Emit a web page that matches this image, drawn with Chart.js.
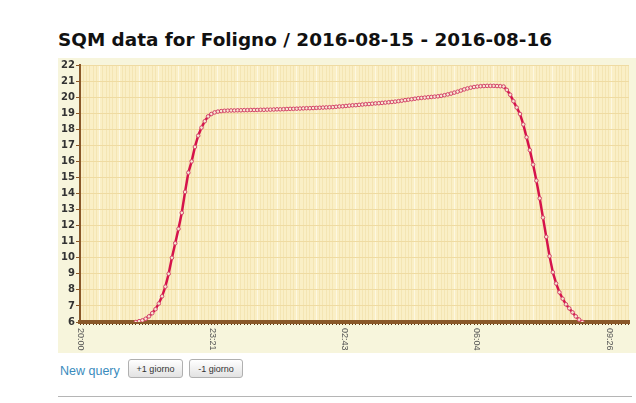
<!DOCTYPE html>
<html>
<head>
<meta charset="utf-8">
<script src="https://cdn.jsdelivr.net/npm/chart.js@4/dist/chart.umd.min.js"></script>
<style>
body { margin: 0; background: #fff; font-family: "DejaVu Sans", sans-serif; }
h2 { position: absolute; left: 58px; top: 29px; margin: 0; font-size: 18.4px; font-weight: bold; color: #111; white-space: nowrap; }
#panel { position: absolute; left: 58px; top: 58px; width: 578px; height: 295px; background: #f7f5dc; }
#foot { position: absolute; left: 58px; top: 359px; height: 20px; }
#foot a { position: absolute; left: 2px; top: 5px; font-family: "Liberation Sans", sans-serif; font-size: 12.5px; color: #3a8bbd; text-decoration: none; white-space: nowrap; }
#foot button { position: absolute; top: 0; height: 19px; padding: 0; font-family: "Liberation Sans", sans-serif; font-size: 9px; color: #333;
  border: 1px solid #b0b0b0; border-radius: 3px; background: linear-gradient(#ffffff, #e2e2e2); }
#rule { position: absolute; left: 58px; top: 396px; width: 574px; border-top: 1px solid #b5b5b5; }
</style>
</head>
<body>
<h2>SQM data for Foligno / 2016-08-15 - 2016-08-16</h2>
<div id="panel"><canvas id="sqmChart" width="578" height="295"></canvas></div>
<div id="foot">
  <a href="#">New query</a>
  <button style="left:70px;width:55px">+1 giorno</button>
  <button style="left:131px;width:54px">-1 giorno</button>
</div>
<div id="rule"></div>
<script>
// Dati (mag/arcsec^2), una lettura ogni 5 minuti
const axisStart = '20:00';
const axisEnd = '09:56';
const tickLabels = ['20:00', '23:21', '02:43', '06:04', '09:26'];
const firstReading = '21:25';
const readingStepMin = 5;
const sqmValues = [
  6.0, 6.05, 6.1, 6.2, 6.35, 6.55, 6.8, 7.15, 7.6, 8.2, 9.0, 10.0, 10.9, 11.8,
  12.8, 14.1, 15.3, 16.0, 16.9, 17.6, 18.1, 18.5, 18.8, 18.95, 19.05, 19.1, 19.13, 19.15,
  19.16, 19.17, 19.17, 19.18, 19.18, 19.19, 19.19, 19.2, 19.2, 19.2, 19.21, 19.21, 19.22, 19.22, 19.23, 19.24,
  19.24, 19.25, 19.26, 19.27, 19.27, 19.28, 19.29, 19.3, 19.31, 19.31, 19.32, 19.33, 19.34, 19.35, 19.36, 19.37,
  19.38, 19.4, 19.42, 19.43, 19.45, 19.47, 19.49, 19.5, 19.52, 19.54, 19.56, 19.57, 19.59, 19.61, 19.62, 19.64,
  19.66, 19.68, 19.7, 19.72, 19.75,
  19.78, 19.81, 19.84, 19.87, 19.9, 19.93, 19.95, 19.97, 19.99, 20.01, 20.03, 20.05,
  20.08, 20.12, 20.17, 20.22, 20.28, 20.34, 20.41, 20.48, 20.54, 20.59, 20.63,
  20.66, 20.68, 20.69, 20.7, 20.7, 20.7, 20.69, 20.68,
  20.66, 20.45, 20.15, 19.75, 19.35, 18.95, 18.3, 17.5, 16.7, 15.8, 14.8, 13.7, 12.5,
  11.3, 10.1, 9.1, 8.4, 7.85, 7.45, 7.1, 6.85, 6.6, 6.35, 6.15, 6.0
];
const yMin = 6;
const yMax = 22;

// minuti trascorsi dalle 20:00 (dopo mezzanotte si aggiungono 24h)
function toMinutes(hhmm) {
    const [h, m] = hhmm.split(':').map(Number);
    let t = h * 60 + m - 20 * 60;
    if (t < 0) t += 24 * 60;
    return t;
}

const start0 = toMinutes(firstReading);
const points = sqmValues.map((v, i) => ({ x: start0 + i * readingStepMin, y: v }));
const xMax = toMinutes(axisEnd);
const tickPos = tickLabels.map(toMinutes);

// griglia verticale fitta ogni 5 minuti
const gridMinutes = [];
for (let t = toMinutes(axisStart); t <= xMax; t += 5) gridMinutes.push(t);

// sfondo dell'area del grafico
const plotBg = {
    id: 'plotBg',
    beforeDraw(chart) {
        const { ctx, chartArea: a } = chart;
        ctx.save();
        ctx.fillStyle = '#faefc6';
        ctx.fillRect(a.left, a.top, a.right - a.left, a.bottom - a.top);
        ctx.restore();
    }
};

// etichette orarie ruotate di 90 gradi (lettura dall'alto in basso)
const rotatedLabels = {
    id: 'rotatedLabels',
    afterDraw(chart) {
        const { ctx, chartArea: a } = chart;
        const xs = chart.scales.x;
        ctx.save();
        ctx.font = '9px "Liberation Sans"';
        ctx.fillStyle = '#555';
        ctx.textAlign = 'left';
        ctx.textBaseline = 'middle';
        tickLabels.forEach((lab, i) => {
            const px = xs.getPixelForValue(tickPos[i]);
            ctx.save();
            ctx.translate(px, a.bottom + 6);
            ctx.rotate(Math.PI / 2);
            ctx.fillText(lab, 0, 0);
            ctx.restore();
        });
        ctx.restore();
    }
};

document.addEventListener('DOMContentLoaded', () => {
    const ctx = document.getElementById('sqmChart').getContext('2d');
    new Chart(ctx, {
        type: 'line',
        data: {
            datasets: [{
                data: points,
                borderColor: '#d5134b',
                borderWidth: 2.5,
                pointRadius: 1.8,
                pointBorderWidth: 1,
                pointBorderColor: '#d4456a',
                pointBackgroundColor: '#f7e7d2',
                tension: 0
            }]
        },
        options: {
            responsive: false,
            animation: false,
            layout: { padding: { top: 4, right: 7, left: 0, bottom: 0 } },
            plugins: { legend: { display: false }, tooltip: { enabled: false } },
            scales: {
                x: {
                    type: 'linear',
                    min: toMinutes(axisStart),
                    max: xMax,
                    afterBuildTicks: s => { s.ticks = gridMinutes.map(v => ({ value: v })); },
                    afterFit: s => { s.height = 31; },
                    ticks: { display: false, autoSkip: false },
                    grid: {
                        color: c => (c.index % 6 === 0 ? '#fdf8e2' : '#f4e5b3'),
                        lineWidth: 1,
                        tickLength: 3,
                        tickColor: '#5a3410'
                    },
                    border: { color: '#8a5829', width: 4 }
                },
                y: {
                    min: yMin,
                    max: yMax,
                    afterFit: s => { s.width = 22; },
                    ticks: {
                        stepSize: 1,
                        padding: 1,
                        color: '#333',
                        font: { family: 'DejaVu Sans', size: 10, weight: 'bold' }
                    },
                    grid: { color: '#efdba2', tickLength: 4, tickColor: '#8a5829' },
                    border: { color: '#8a5829', width: 2 }
                }
            }
        },
        plugins: [plotBg, rotatedLabels]
    });
});
</script>
</body>
</html>
